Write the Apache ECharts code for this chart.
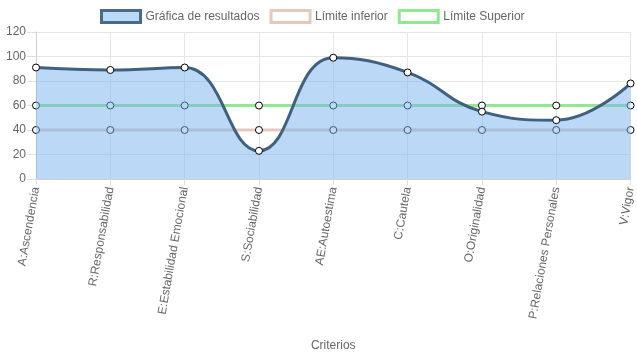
<!DOCTYPE html>
<html><head><meta charset="utf-8">
<script src="https://cdn.jsdelivr.net/npm/echarts@6/dist/echarts.min.js"></script>
<style>html,body{margin:0;padding:0;background:#fff}#c{width:637px;height:359px}</style>
</head><body><div id="c"></div>
<script>
const categories = ["A:Ascendencia","R:Responsabilidad","E:Estabilidad Emocional","S:Sociabilidad","AE:Autoestima","C:Cautela","O:Originalidad","P:Relaciones Personales","V:Vigor"];
const resultados = [91, 89, 91, 23, 99, 87, 55, 48, 78];
const limiteInferior = [40, 40, 40, 40, 40, 40, 40, 40, 40];
const limiteSuperior = [60, 60, 60, 60, 60, 60, 60, 60, 60];
const seriesNames = ["Gráfica de resultados", "Límite inferior", "Límite Superior"];
const yTicks = {min: 0, max: 120, interval: 20};

const font = "Liberation Sans, Arial, sans-serif";
const chart = echarts.init(document.getElementById('c'));
const pt = {color: '#fff', borderColor: '#000', borderWidth: 1};
chart.setOption({
  animation: false,
  legend: {
    top: 4, left: 95, padding: 5, itemWidth: 39, itemHeight: 12, itemGap: 10,
    textStyle: {fontFamily: font, fontSize: 12, color: '#666'},
    data: [
      {name: seriesNames[0], icon: 'rect', itemStyle: {color: '#b9daf6', borderColor: '#4a6b8c', borderWidth: 3}},
      {name: seriesNames[1], icon: 'rect', itemStyle: {color: '#fff', borderColor: '#e6c9bd', borderWidth: 3}},
      {name: seriesNames[2], icon: 'rect', itemStyle: {color: '#fff', borderColor: '#90e890', borderWidth: 3}}
    ]
  },
  grid: {left: 36, right: 4, top: 32, bottom: 180},
  xAxis: {
    type: 'category', data: categories, boundaryGap: false,
    name: 'Criterios', nameLocation: 'middle', nameGap: 161,
    nameTextStyle: {fontFamily: font, fontSize: 12, color: '#666'},
    axisLine: {show: true, lineStyle: {color: '#d0d0d0'}},
    axisTick: {show: true, alignWithLabel: true, length: 6, lineStyle: {color: '#e0e0e0'}},
    axisLabel: {rotate: 80, fontFamily: font, fontSize: 12, color: '#666', margin: 8, interval: 0},
    splitLine: {show: true, lineStyle: {color: '#e6e6e6'}}
  },
  yAxis: {
    type: 'value', min: yTicks.min, max: yTicks.max, interval: yTicks.interval,
    axisLine: {show: true, lineStyle: {color: '#d0d0d0'}},
    axisTick: {show: true, length: 9, lineStyle: {color: '#e0e0e0'}},
    axisLabel: {fontFamily: font, fontSize: 12, color: '#666', margin: 10},
    splitLine: {show: true, lineStyle: {color: '#e6e6e6'}}
  },
  series: [
    {name: seriesNames[1], type: 'line', data: limiteInferior, z: 2,
     symbol: 'circle', symbolSize: 7, showAllSymbol: true, itemStyle: pt,
     lineStyle: {color: '#e6c9bd', width: 3}},
    {name: seriesNames[2], type: 'line', data: limiteSuperior, z: 2,
     symbol: 'circle', symbolSize: 7, showAllSymbol: true, itemStyle: pt,
     lineStyle: {color: '#90e890', width: 3}},
    {name: seriesNames[0], type: 'line', data: resultados, z: 5, smooth: 0.45,
     symbol: 'circle', symbolSize: 7, showAllSymbol: true, itemStyle: pt,
     lineStyle: {color: '#3f607f', width: 3},
     areaStyle: {color: 'rgba(120,180,240,0.5)', opacity: 1}}
  ]
});
</script></body></html>
